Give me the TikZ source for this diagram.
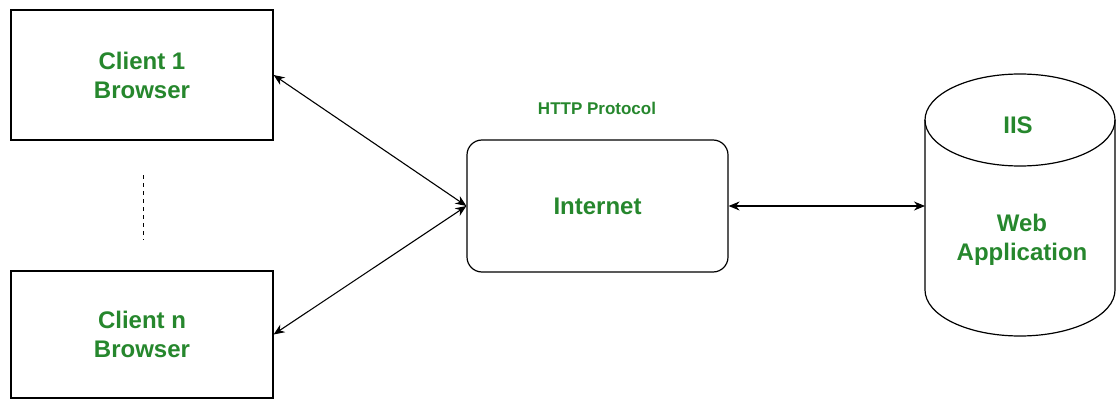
\documentclass[tikz,border=0pt]{standalone}
\usepackage{fontspec}
\setmainfont{Liberation Sans}
\usetikzlibrary{arrows.meta}
\definecolor{labelgreen}{RGB}{38,135,45}

\begin{document}
\begin{tikzpicture}
[x=1pt,y=-1pt,%
  boxdecorate/.style={draw,line width=1.2pt,minimum width=262pt,inner sep=0pt,%
    align=center,text=labelgreen,font=\fontsize{24}{29}\selectfont\bfseries},%
  textdecorate/.style={align=center,text=labelgreen,font=\fontsize{24}{29}\selectfont\bfseries},%
  linedecorate/.style={{Stealth[length=11pt,width=9pt]}-{Stealth[length=11pt,width=9pt]},line width=1.1pt}]
\useasboundingbox (0,0) rectangle (1116,401);
%% nodes or boxes
\node (client1) at (142,75) [boxdecorate,minimum height=130pt] {Client 1\\Browser};
\node (clientn) at (142,334.5) [boxdecorate,minimum height=127pt] {Client n\\Browser};
\node (internet) at (597.5,206) [boxdecorate,minimum width=261pt,minimum height=132pt,rounded corners=15pt] {Internet};
\node (http) at (597,108) [textdecorate,font=\fontsize{17}{20}\selectfont\bfseries] {HTTP Protocol};
%% server cylinder
\draw[line width=1.2pt] (925,120) -- (925,290) arc[start angle=180,end angle=0,x radius=95,y radius=46]
  -- (1115,120);
\draw[line width=1.2pt] (1020,120) ellipse[x radius=95,y radius=46];
\coordinate (server) at (925,206);
\node (iis) at (1018,125) [textdecorate] {IIS};
\node (webapp) at (1022,240) [textdecorate] {Web\\Application};
%% dots between clients
\draw[line width=1pt,dash pattern=on 4pt off 4pt] (143,175) -- (143,240);
%% edges or lines
\path
\foreach \startnode/\endnode in {client1.east/internet.west, clientn.east/internet.west, internet.east/server}
{
  (\startnode) edge[linedecorate] (\endnode)
};
\end{tikzpicture}
\end{document}
